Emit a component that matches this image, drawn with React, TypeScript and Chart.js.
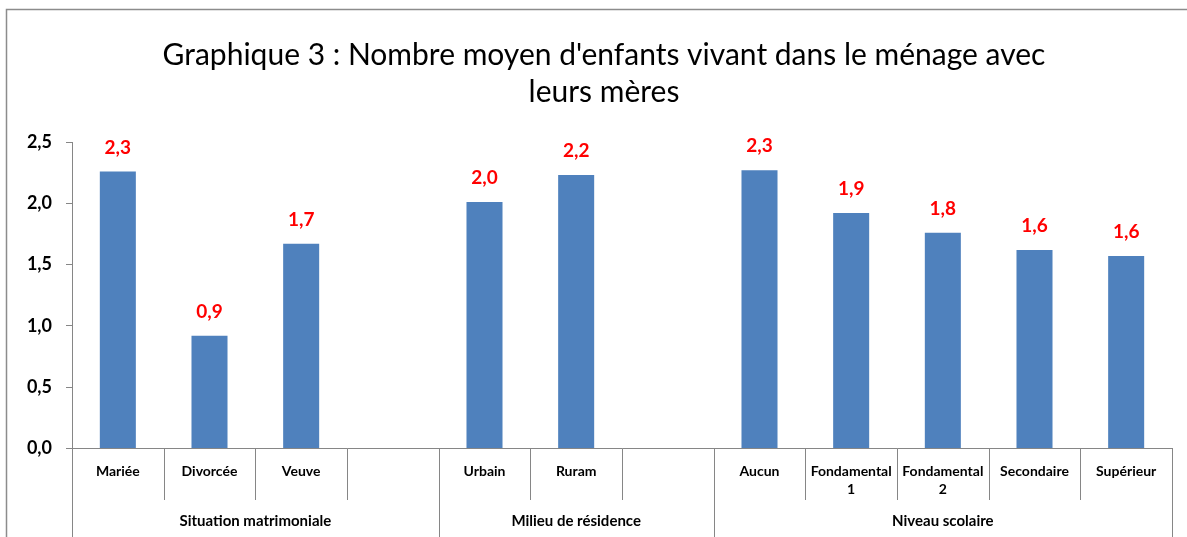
import React, { useEffect, useRef } from 'react';
import { Chart, registerables } from 'chart.js';

Chart.register(...registerables);

const titleLines = ["Graphique 3 : Nombre moyen d'enfants vivant dans le ménage avec", 'leurs mères'];
const categories = ['Mariée', 'Divorcée', 'Veuve', '', 'Urbain', 'Ruram', '', 'Aucun', 'Fondamental 1', 'Fondamental 2', 'Secondaire', 'Supérieur'];
const values: (number | null)[] = [2.26, 0.92, 1.67, null, 2.01, 2.23, null, 2.27, 1.92, 1.76, 1.62, 1.57];
const groupLabels = ['Situation matrimoniale', 'Milieu de résidence', 'Niveau scolaire'];
const groupSizes = [4, 3, 5];
const yMin = 0;
const yMax = 2.5;
const yStep = 0.5;

const FONT = 'Lato, "Open Sans", sans-serif';
const fmt = (v: number) => v.toFixed(1).replace('.', ',');

const decorPlugin = {
  id: 'decor',
  afterDraw(chart: any) {
    const { ctx, chartArea } = chart;
    const H = chart.height;
    const W = chart.width;
    const n = categories.length;
    const cw = (chartArea.right - chartArea.left) / n;
    ctx.save();

    // frame
    ctx.strokeStyle = '#8c8c8c';
    ctx.lineWidth = 1.5;
    ctx.beginPath();
    ctx.moveTo(6.5, H);
    ctx.lineTo(6.5, 9.5);
    ctx.lineTo(W, 9.5);
    ctx.stroke();

    // title
    ctx.fillStyle = '#000';
    ctx.font = `30px ${FONT}`;
    ctx.textAlign = 'center';
    ctx.textBaseline = 'middle';
    titleLines.forEach((t, i) => ctx.fillText(t, 604, 55 + i * 37));

    // category dividers
    const boundaries = new Set<number>();
    let acc = 0;
    boundaries.add(0);
    groupSizes.forEach((s) => {
      acc += s;
      boundaries.add(acc);
    });
    ctx.strokeStyle = '#868686';
    ctx.lineWidth = 1;
    for (let k = 0; k <= n; k++) {
      const x = Math.round(chartArea.left + k * cw) + 0.5;
      ctx.beginPath();
      ctx.moveTo(x, chartArea.bottom);
      ctx.lineTo(x, boundaries.has(k) ? H : 500);
      ctx.stroke();
    }

    // group labels
    ctx.fillStyle = '#000';
    ctx.font = `bold 15px ${FONT}`;
    acc = 0;
    groupSizes.forEach((s, g) => {
      const x0 = chartArea.left + acc * cw;
      const x1 = chartArea.left + (acc + s) * cw;
      ctx.fillText(groupLabels[g], (x0 + x1) / 2, 521);
      acc += s;
    });

    // data labels
    const meta = chart.getDatasetMeta(0);
    ctx.fillStyle = '#ff0000';
    ctx.font = `bold 19px ${FONT}`;
    meta.data.forEach((el: any, i: number) => {
      const v = values[i];
      if (v == null) return;
      ctx.fillText(fmt(v), el.x, el.y - 24);
    });
    ctx.restore();
  },
};

export default function App() {
  const ref = useRef<HTMLCanvasElement>(null);
  useEffect(() => {
    if (!ref.current) return;
    const chart = new Chart(ref.current, {
      type: 'bar',
      data: {
        labels: categories,
        datasets: [
          {
            data: values,
            backgroundColor: '#4f81bd',
            borderColor: '#4f81bd',
            borderWidth: 0,
            barPercentage: 0.393,
            categoryPercentage: 1,
          },
        ],
      },
      options: {
        animation: false,
        responsive: false,
        layout: { padding: { top: 142, left: 0, right: 15, bottom: 0 } },
        plugins: { legend: { display: false }, tooltip: { enabled: false }, title: { display: false } },
        scales: {
          x: {
            offset: true,
            grid: { display: false },
            border: { display: true, color: '#868686', width: 1 },
            ticks: {
              autoSkip: false,
              maxRotation: 0,
              minRotation: 0,
              padding: 6,
              color: '#000',
              font: { family: FONT, size: 14, weight: 'bold', lineHeight: 1.3 },
              callback(this: any, value: any) {
                const l = this.getLabelForValue(value) as string;
                if (l.length > 11 && l.includes(' ')) {
                  const i = l.lastIndexOf(' ');
                  return [l.slice(0, i), l.slice(i + 1)];
                }
                return l;
              },
            },
            afterFit(scale: any) {
              scale.height = 88.5;
            },
          },
          y: {
            min: yMin,
            max: yMax,
            grid: { display: true, drawOnChartArea: false, drawTicks: true, tickLength: 6, color: '#868686' },
            border: { display: true, color: '#868686', width: 1 },
            ticks: {
              stepSize: yStep,
              padding: 14,
              color: '#000',
              font: { family: FONT, size: 18, weight: 'bold' },
              callback: (v: any) => fmt(Number(v)),
            },
            afterFit(scale: any) {
              scale.width = 72;
            },
          },
        },
      },
      plugins: [decorPlugin],
    });
    return () => chart.destroy();
  }, []);
  return (
    <div style={{ position: 'fixed', left: 0, top: 0, width: 1187, height: 537, background: '#fff' }}>
      <canvas ref={ref} width={1187} height={537} style={{ display: 'block', width: 1187, height: 537 }} />
    </div>
  );
}
